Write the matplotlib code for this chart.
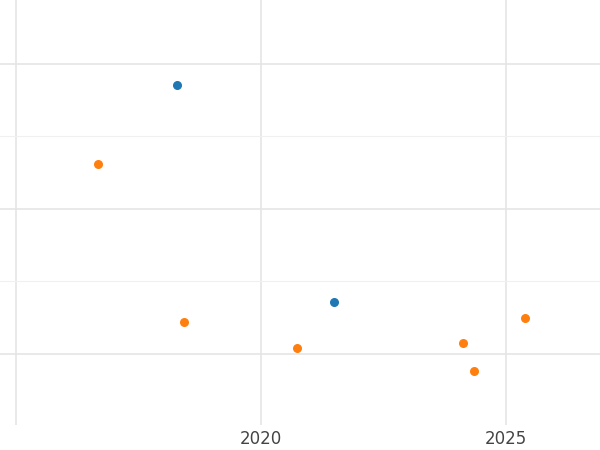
import matplotlib
matplotlib.use("Agg")
import matplotlib.pyplot as plt

blue_x = [2018.29, 2021.49]
blue_y = [3.71, 0.72]
orange_x = [2016.67, 2018.43, 2020.73, 2024.12, 2024.35, 2025.39]
orange_y = [2.62, 0.44, 0.08, 0.15, -0.23, 0.50]
xticks = [2015, 2020, 2025]
xticklabels = ["", "2020", "2025"]

fig = plt.figure(figsize=(6, 4.5), dpi=100)
ax = fig.add_axes([0, 1 - 425 / 450, 1, 425 / 450])
ax.scatter(blue_x, blue_y, s=30, color="#1f77b4", zorder=3)
ax.scatter(orange_x, orange_y, s=30, color="#ff7f0e", zorder=3)
ax.set_xlim(2014.67, 2026.92)
ax.set_ylim(-0.98, 4.88)
ax.set_xticks(xticks)
ax.set_xticklabels(xticklabels, fontsize=12, color="#444444")
ax.set_yticks([0, 2, 4])
ax.set_yticks([1, 3], minor=True)
ax.set_yticklabels([])
ax.tick_params(length=0, which="both")
ax.grid(True, which="major", color="#e5e5e5", linewidth=1.2)
ax.grid(True, which="minor", axis="y", color="#f0f0f0", linewidth=0.8)
ax.set_axisbelow(True)
for s in ax.spines.values():
    s.set_visible(False)
fig.savefig("out.png", dpi=100)
